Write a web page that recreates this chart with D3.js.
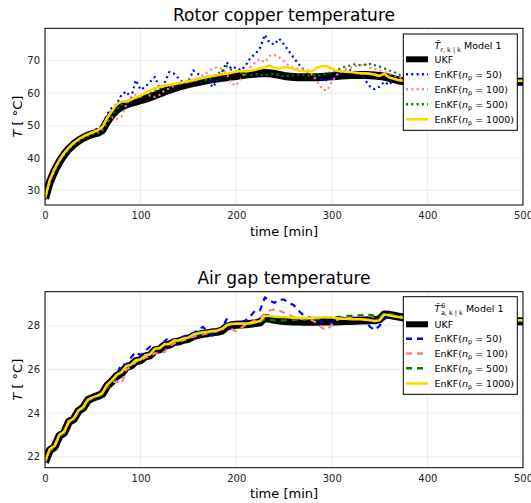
<!DOCTYPE html>
<html><head><meta charset="utf-8">
<script src="https://cdn.jsdelivr.net/npm/d3@7"></script>
<style>
body{margin:0;background:#fff}
svg{display:block}
text{font-family:"DejaVu Sans",sans-serif}
</style>
</head><body><svg id="c" width="531" height="503"></svg>
<script>
// ---------- data ----------
const time = d3.range(0, 501, 5); // sample grid [min]
const xTicks = [0, 100, 200, 300, 400, 500];
const rotorTicks = [30, 40, 50, 60, 70];
const airTicks = [22, 24, 26, 28];
const seriesNames = ["UKF", "EnKF(n_p = 50)", "EnKF(n_p = 100)", "EnKF(n_p = 500)", "EnKF(n_p = 1000)"];
const seriesLabelsNp = ["50", "100", "500", "1000"];

const rotorUKF = [27.5,32.5,36.0,38.8,41.0,42.8,44.2,45.3,46.2,46.9,
 47.4,47.7,48.6,51.2,53.3,54.8,55.8,56.5,57.0,57.4,
 57.8,58.2,58.7,59.3,59.9,60.5,61.0,61.5,62.0,62.4,
 62.8,63.1,63.4,63.7,64.0,64.3,64.5,64.7,64.9,65.1,
 65.3,65.5,65.7,65.9,66.0,66.1,66.2,66.1,65.9,65.6,
 65.3,65.1,65.0,64.9,64.9,64.9,64.9,64.9,65.0,65.1,
 65.2,65.3,65.4,65.5,65.6,65.6,65.6,65.6,65.5,65.4,
 65.3,65.1,64.7,64.3,63.9,63.7,63.5,63.4,63.3,63.3,
 63.3,63.3,63.3,63.3,63.3,63.4,63.4,63.4,63.4,63.4,
 63.4,63.4,63.5,63.5,63.5,63.5,63.5,63.5,63.5,63.5,
 63.5];
const rotor50 = [27.2,32.8,36.3,39.5,41.8,43.3,44.6,45.6,46.6,47.6,
 48.4,49.0,50.0,53.5,55.5,56.5,59.5,60.5,58.5,64.0,
 61.0,62.0,63.5,65.0,61.5,63.0,66.5,66.0,64.5,63.0,
 63.5,67.0,66.0,64.5,65.0,61.8,63.5,66.5,69.5,67.5,
 68.0,67.0,68.5,71.0,72.0,74.0,78.0,75.5,75.0,76.8,
 75.0,73.0,71.0,69.0,67.5,66.5,65.5,64.5,64.0,64.0,
 64.5,65.5,66.0,67.0,67.0,66.5,66.0,64.0,62.0,61.2,
 62.0,63.5,62.5,64.5,64.0,63.8,63.6,63.5,63.4,63.4,
 63.4,63.5,63.3,63.6,63.4,63.5,63.3,63.4,63.6,63.5,
 63.4,63.3,63.5,63.6,63.4,63.5,63.3,63.4,63.6,63.5,
 63.3];
const rotor100 = [27.1,32.7,36.2,39.2,41.4,43.1,44.5,45.5,46.4,47.1,
 47.6,47.9,48.8,51.0,52.5,52.0,52.8,56.5,59.0,59.5,
 59.0,60.0,59.2,58.8,59.5,60.8,61.5,62.3,63.0,63.2,
 63.5,64.0,64.5,65.5,66.5,67.5,68.0,67.5,66.0,63.0,
 62.3,64.5,66.5,68.0,69.5,70.5,69.5,71.5,71.8,71.0,
 69.8,68.5,67.8,67.5,67.3,67.0,65.5,63.5,61.2,60.8,
 63.5,65.5,67.0,67.5,67.8,68.3,68.5,69.0,67.8,67.5,
 67.0,66.5,66.0,65.5,65.0,64.5,64.2,64.0,63.8,63.7,
 63.7,63.6,63.8,63.7,63.6,63.7,63.8,63.6,63.7,63.7,
 63.8,63.6,63.7,63.8,63.7,63.6,63.7,63.8,63.7,63.6,
 63.7];
const rotor500 = [27.0,32.4,35.9,38.7,40.9,42.7,44.1,45.2,46.1,46.8,
 47.3,47.6,48.4,51.0,53.2,55.0,56.3,57.0,57.6,58.5,
 58.7,59.5,60.0,60.6,61.5,62.3,62.0,62.5,62.6,63.0,
 63.4,63.6,64.0,64.5,63.8,65.0,66.0,66.5,68.3,67.2,
 66.6,66.2,65.8,65.6,65.9,65.6,65.5,65.9,66.0,65.5,
 65.2,65.3,65.5,65.8,65.8,65.5,65.5,65.3,65.6,66.0,
 66.5,67.0,67.8,68.3,68.5,69.0,68.6,68.8,69.0,68.6,
 68.2,67.6,67.0,66.5,65.8,65.0,64.5,64.0,63.8,63.7,
 63.7,63.6,63.7,63.6,63.7,63.6,63.7,63.6,63.6,63.7,
 63.6,63.7,63.6,63.7,63.6,63.6,63.7,63.6,63.7,63.6,
 63.7];
const rotor1000 = [27.6,33.2,36.6,39.3,41.5,43.2,44.6,45.7,46.6,47.3,
 47.9,48.5,49.6,52.3,54.5,56.5,57.4,57.4,58.0,58.6,
 59.2,60.0,60.8,61.5,62.0,62.3,62.5,62.8,63.1,63.4,
 63.7,64.0,64.3,64.7,65.0,65.3,65.5,65.8,66.0,66.3,
 66.6,66.8,66.7,66.9,67.2,67.6,68.0,68.5,67.7,67.6,
 68.0,67.9,67.5,67.0,66.8,66.7,66.8,68.0,68.3,68.3,
 67.5,66.9,66.7,66.6,66.5,66.3,66.1,66.1,66.0,65.7,
 65.3,66.0,64.8,64.4,64.0,63.8,63.7,63.7,63.7,63.7,
 63.7,63.8,63.8,63.7,63.7,63.8,63.8,63.8,63.7,63.7,
 63.8,63.8,63.8,63.8,63.7,63.7,63.8,63.8,63.8,63.8,
 63.8];

const airUKF = [21.75,22.30,22.45,22.95,23.10,23.60,23.72,24.10,24.25,24.60,
 24.70,24.78,24.88,25.25,25.45,25.70,25.82,26.10,26.18,26.38,
 26.42,26.60,26.65,26.88,26.92,27.10,27.13,27.25,27.28,27.36,
 27.40,27.52,27.58,27.63,27.66,27.70,27.72,27.78,27.96,28.02,
 28.05,28.06,28.07,28.09,28.12,28.16,28.36,28.32,28.27,28.24,
 28.22,28.21,28.20,28.19,28.18,28.18,28.18,28.18,28.19,28.19,
 28.20,28.20,28.21,28.22,28.22,28.23,28.24,28.24,28.25,28.25,
 28.30,28.52,28.50,28.46,28.42,28.38,28.35,28.33,28.31,28.30,
 28.30,28.29,28.28,28.28,28.27,28.27,28.26,28.26,28.25,28.25,
 28.25,28.24,28.24,28.23,28.23,28.22,28.22,28.22,28.21,28.21,
 28.20];
const air50 = [21.72,22.32,22.48,22.98,23.12,23.62,23.75,24.12,24.26,24.62,
 24.72,24.80,24.90,25.28,25.50,25.75,26.25,26.20,26.55,26.80,
 26.65,26.85,27.05,26.95,26.95,27.30,27.45,27.30,27.45,27.50,
 27.60,27.65,27.80,27.95,27.75,27.55,27.65,27.90,28.30,28.10,
 28.10,28.15,28.25,28.45,28.70,28.70,29.30,29.15,29.05,29.20,
 29.20,29.05,28.95,28.70,28.50,28.40,28.35,28.30,28.20,28.10,
 28.15,28.25,28.35,28.40,28.40,28.35,28.30,28.25,27.95,27.80,
 28.00,28.30,28.45,28.42,28.40,28.35,28.33,28.32,28.30,28.30,
 28.30,28.29,28.28,28.28,28.27,28.26,28.26,28.25,28.25,28.24,
 28.24,28.23,28.22,28.22,28.21,28.20,28.20,28.19,28.18,28.17,
 28.16];
const air100 = [21.73,22.30,22.46,22.96,23.12,23.60,23.73,24.10,24.25,24.60,
 24.70,24.78,24.88,25.20,25.40,25.45,25.35,26.00,26.10,26.35,
 26.40,26.55,26.60,26.75,26.70,26.80,27.05,27.20,27.25,27.35,
 27.40,27.50,27.55,27.60,27.65,27.70,27.75,27.80,28.00,27.85,
 27.75,27.90,28.05,28.15,28.25,28.35,28.55,28.70,28.75,28.70,
 28.60,28.50,28.40,28.35,28.30,28.30,28.25,28.10,27.90,27.80,
 28.05,28.25,28.35,28.40,28.40,28.45,28.45,28.50,28.45,28.40,
 28.35,28.50,28.48,28.44,28.40,28.37,28.35,28.33,28.32,28.31,
 28.30,28.30,28.29,28.29,28.28,28.28,28.27,28.27,28.26,28.26,
 28.25,28.25,28.25,28.24,28.24,28.23,28.23,28.23,28.22,28.22,
 28.22];
const air500 = [21.75,22.28,22.45,22.93,23.08,23.58,23.70,24.06,24.22,24.56,
 24.68,24.76,24.85,25.22,25.42,25.68,25.85,26.10,26.20,26.40,
 26.45,26.62,26.70,26.90,26.95,27.10,27.15,27.28,27.30,27.40,
 27.45,27.55,27.60,27.65,27.68,27.72,27.75,27.85,28.10,28.10,
 28.10,28.08,28.08,28.10,28.12,28.18,28.30,28.28,28.25,28.25,
 28.25,28.25,28.26,28.28,28.28,28.30,28.30,28.30,28.32,28.35,
 28.38,28.40,28.42,28.45,28.45,28.45,28.48,28.50,28.50,28.45,
 28.40,28.58,28.55,28.50,28.45,28.42,28.40,28.38,28.36,28.35,
 28.34,28.33,28.32,28.32,28.31,28.30,28.30,28.30,28.29,28.29,
 28.28,28.28,28.28,28.27,28.27,28.27,28.26,28.26,28.26,28.25,
 28.25];
const air1000 = [21.80,22.35,22.50,23.00,23.15,23.62,23.75,24.12,24.28,24.62,
 24.72,24.80,24.92,25.30,25.50,25.75,25.88,26.15,26.22,26.42,
 26.46,26.65,26.70,26.95,26.98,27.15,27.18,27.32,27.34,27.42,
 27.46,27.60,27.66,27.70,27.72,27.76,27.78,27.85,28.02,28.08,
 28.10,28.10,28.10,28.12,28.16,28.22,28.45,28.45,28.42,28.40,
 28.40,28.38,28.37,28.36,28.36,28.35,28.36,28.38,28.38,28.40,
 28.38,28.34,28.32,28.32,28.30,28.30,28.30,28.28,28.25,28.22,
 28.25,28.52,28.48,28.44,28.40,28.37,28.35,28.34,28.33,28.32,
 28.32,28.31,28.31,28.30,28.30,28.30,28.29,28.29,28.29,28.28,
 28.28,28.28,28.27,28.27,28.27,28.26,28.26,28.26,28.25,28.25,
 28.25];

// ---------- styles ----------
const colors = ["#000000", "#0000ff", "#ff8080", "#008000", "#ffd700"];
const widths = [8, 2.2, 2.2, 2.2, 2.6];

const svg = d3.select("#c");
const X0 = 45, X1 = 523;
const x = d3.scaleLinear().domain([0, 500]).range([X0, X1]);

const panels = [
  {top: 28.3, bottom: 205, dom: [25.46, 80.0], ticks: rotorTicks, title: "Rotor copper temperature",
   data: [rotorUKF, rotor50, rotor100, rotor500, rotor1000], dash: "2,3.3",
   leg: {top: 34, bottom: 130.3, titleY: 45.7, rows: [59.3, 74.3, 89.3, 104.3, 119.3], sub: "r, k | k", sup: null}},
  {top: 291.7, bottom: 467.7, dom: [21.5, 29.56], ticks: airTicks, title: "Air gap temperature",
   data: [airUKF, air50, air100, air500, air1000], dash: "6,5",
   leg: {top: 296.7, bottom: 394.3, titleY: 308.5, rows: [324.3, 338.8, 353.5, 368.3, 383.5], sub: "a, k | k", sup: "6"}}
];

panels.forEach((p, pi) => {
  const y = d3.scaleLinear().domain(p.dom).range([p.bottom, p.top]);
  const g = svg.append("g");
  const clipId = "clip" + pi;
  svg.append("clipPath").attr("id", clipId).append("rect")
    .attr("x", X0).attr("y", p.top).attr("width", X1 - X0).attr("height", p.bottom - p.top);

  // grid
  g.selectAll(".gx").data(xTicks).enter().append("line")
    .attr("x1", d => x(d)).attr("x2", d => x(d)).attr("y1", p.top).attr("y2", p.bottom)
    .attr("stroke", "#000").attr("stroke-opacity", 0.1).attr("stroke-width", 0.8);
  g.selectAll(".gy").data(p.ticks).enter().append("line")
    .attr("x1", X0).attr("x2", X1).attr("y1", d => y(d)).attr("y2", d => y(d))
    .attr("stroke", "#000").attr("stroke-opacity", 0.1).attr("stroke-width", 0.8);

  // series
  const line = d3.line().x((d, i) => x(time[i])).y(d => y(d));
  const lg = g.append("g").attr("clip-path", `url(#${clipId})`);
  p.data.forEach((s, si) => {
    const path = lg.append("path").datum(s).attr("d", line)
      .attr("fill", "none").attr("stroke", colors[si]).attr("stroke-width", widths[si])
      .attr("stroke-linejoin", "round");
    if (si >= 1 && si <= 3) path.attr("stroke-dasharray", p.dash);
  });

  // axes via d3
  const xa = g.append("g").attr("transform", `translate(0,${p.bottom})`)
    .call(d3.axisBottom(x).tickValues(xTicks).tickSize(0).tickPadding(7).tickFormat(d3.format("d")));
  xa.select(".domain").remove();
  xa.selectAll("text").attr("font-size", 10).attr("fill", "#222").attr("font-family", "DejaVu Sans");
  const ya = g.append("g").attr("transform", `translate(${X0},0)`)
    .call(d3.axisLeft(y).tickValues(p.ticks).tickSize(0).tickPadding(5).tickFormat(d3.format("d")));
  ya.select(".domain").remove();
  ya.selectAll("text").attr("font-size", 10).attr("fill", "#222").attr("font-family", "DejaVu Sans");

  // frame
  g.append("rect").attr("x", X0).attr("y", p.top).attr("width", X1 - X0).attr("height", p.bottom - p.top)
    .attr("fill", "none").attr("stroke", "#000").attr("stroke-width", 1);

  // title
  g.append("text").attr("x", (X0 + X1) / 2).attr("y", p.top - 7.3).attr("text-anchor", "middle")
    .attr("font-size", 17).attr("fill", "#000").text(p.title);
  // x label
  g.append("text").attr("x", (X0 + X1) / 2).attr("y", p.bottom + 30.5).attr("text-anchor", "middle")
    .attr("font-size", 13).attr("fill", "#000").text("time [min]");
  // y label
  const yl = g.append("text").attr("transform", `translate(22,${(p.top + p.bottom) / 2}) rotate(-90)`)
    .attr("text-anchor", "middle").attr("font-size", 13).attr("fill", "#000");
  yl.append("tspan").attr("font-style", "italic").text("T");
  yl.append("tspan").text(" [ °C]");

  // legend
  const L = p.leg, lx0 = 403.3, lx1 = 517.3;
  const leg = g.append("g");
  leg.append("rect").attr("x", lx0).attr("y", L.top).attr("width", lx1 - lx0).attr("height", L.bottom - L.top)
    .attr("fill", "#fff").attr("stroke", "#000").attr("stroke-width", 1);
  // legend title
  const tx = 434.5, ty = L.titleY + 3.5;
  const tt = leg.append("text").attr("x", tx).attr("y", ty).attr("font-size", 9.5).attr("fill", "#000");
  tt.append("tspan").attr("font-style", "italic").text("T\u0302");
  if (L.sup) {
    tt.append("tspan").attr("x", tx + 6.4).attr("dy", -4.5).attr("font-size", 6.5).text(L.sup);
    tt.append("tspan").attr("x", tx + 6.4).attr("dy", 7.5).attr("font-size", 6.5).text(L.sub);
    tt.append("tspan").attr("dy", -3).text(" Model 1");
  } else {
    tt.append("tspan").attr("dy", 2.5).attr("font-size", 6.5).text(L.sub);
    tt.append("tspan").attr("dy", -2.5).text(" Model 1");
  }

  L.rows.forEach((ry, si) => {
    const ln = leg.append("line").attr("x1", 406).attr("x2", 428).attr("y1", ry).attr("y2", ry)
      .attr("stroke", colors[si]).attr("stroke-width", si === 0 ? 6 : (si === 4 ? 2.6 : 2.4));
    if (si >= 1 && si <= 3) ln.attr("stroke-dasharray", p.dash);
    const t = leg.append("text").attr("x", 434.5).attr("y", ry + 3.4).attr("font-size", 9.5).attr("fill", "#000");
    if (si === 0) { t.text(seriesNames[0]); }
    else {
      t.append("tspan").text("EnKF(");
      t.append("tspan").attr("font-style", "italic").text("n");
      t.append("tspan").attr("dy", 2.2).attr("font-size", 6.5).text("p");
      t.append("tspan").attr("dy", -2.2).text(" = " + seriesLabelsNp[si - 1] + ")");
    }
  });
});
</script>
</body></html>
